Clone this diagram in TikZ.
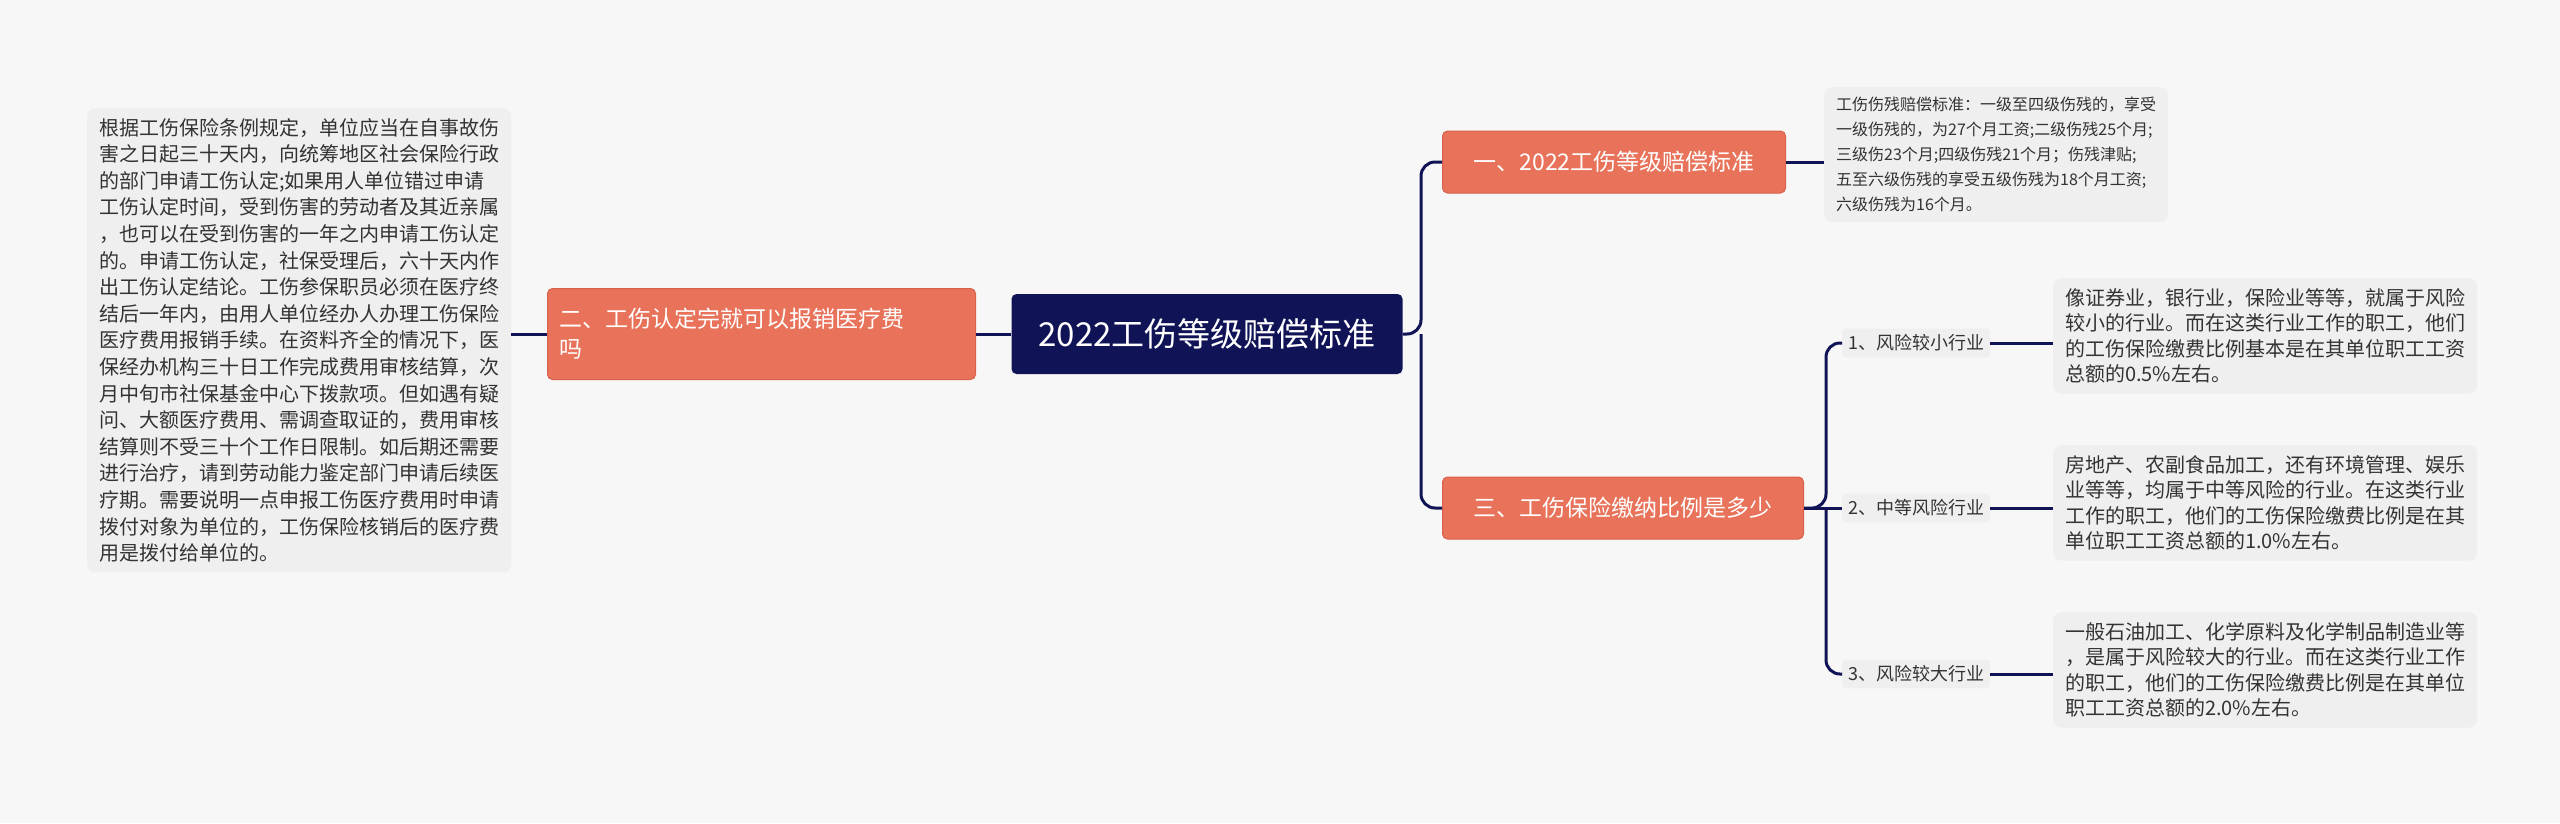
\documentclass[tikz,border=0pt]{standalone}
\usepackage{fontspec}
\setmainfont{Noto Sans CJK SC}
\definecolor{navy}{HTML}{101457}
\definecolor{orng}{HTML}{E8735A}
\definecolor{orngb}{HTML}{D9604A}
\definecolor{pagebg}{HTML}{F7F7F7}
\definecolor{txtbg}{HTML}{EFEFEF}
\definecolor{txt}{HTML}{333333}
\tikzset{
  body/.style={fill=txtbg,rounded corners=8pt,align=left,anchor=north west,text=txt,inner xsep=12pt,inner ysep=10pt},
  topic/.style={fill=orng,draw=orngb,line width=1pt,rounded corners=5pt,text=white,font=\fontsize{23}{30}\selectfont,anchor=west,inner xsep=12pt,align=left},
  sub/.style={fill=txtbg,rounded corners=4pt,text=txt,font=\fontsize{18}{22}\selectfont,inner sep=6pt},
  link/.style={draw=navy,line width=3pt,rounded corners=14pt}
}
\begin{document}
\begin{tikzpicture}[x=1pt,y=-1pt]
\useasboundingbox (0,0) rectangle (2560,823);
\fill[pagebg] (0,0) rectangle (2560,823);
% center
\node[fill=navy,rounded corners=5pt,text=white,font=\fontsize{33}{40}\selectfont,minimum width=391pt,minimum height=80pt] (c) at (1207,334) {2022工伤等级赔偿标准};
% left
\node[topic,text width=404pt,minimum height=91pt,anchor=west] (t2) at (547,334) {二、工伤认定完就可以报销医疗费\\吗};
\node[body,font=\fontsize{20}{26.6}\selectfont] (l) at (87,108) {根据工伤保险条例规定，单位应当在自事故伤\\害之日起三十天内，向统筹地区社会保险行政\\的部门申请工伤认定;如果用人单位错过申请\\工伤认定时间，受到伤害的劳动者及其近亲属\\，也可以在受到伤害的一年之内申请工伤认定\\的。申请工伤认定，社保受理后，六十天内作\\出工伤认定结论。工伤参保职员必须在医疗终\\结后一年内，由用人单位经办人办理工伤保险\\医疗费用报销手续。在资料齐全的情况下，医\\保经办机构三十日工作完成费用审核结算，次\\月中旬市社保基金中心下拨款项。但如遇有疑\\问、大额医疗费用、需调查取证的，费用审核\\结算则不受三十个工作日限制。如后期还需要\\进行治疗，请到劳动能力鉴定部门申请后续医\\疗期。需要说明一点申报工伤医疗费用时申请\\拨付对象为单位的，工伤保险核销后的医疗费\\用是拨付给单位的。};
% right topics
\node[topic,minimum width=343pt,minimum height=62pt] (t1) at (1442,162) {一、2022工伤等级赔偿标准};
\node[topic,minimum width=361pt,minimum height=62pt] (t3) at (1442,508) {三、工伤保险缴纳比例是多少};
\node[body,font=\fontsize{16}{25}\selectfont] (r1) at (1824,87) {工伤伤残赔偿标准：一级至四级伤残的，享受\\一级伤残的，为27个月工资;二级伤残25个月;\\三级伤23个月;四级伤残21个月；伤残津贴;\\五至六级伤残的享受五级伤残为18个月工资;\\六级伤残为16个月。};
% sub labels
\node[sub,anchor=west] (s1) at (1842,343) {1、风险较小行业};
\node[sub,anchor=west] (s2) at (1842,508) {2、中等风险行业};
\node[sub,anchor=west] (s3) at (1842,674) {3、风险较大行业};
\node[body,font=\fontsize{20}{25.6}\selectfont] (b1) at (2053,278) {像证券业，银行业，保险业等等，就属于风险\\较小的行业。而在这类行业工作的职工，他们\\的工伤保险缴费比例基本是在其单位职工工资\\总额的0.5\%左右。};
\node[body,font=\fontsize{20}{25.6}\selectfont] (b2) at (2053,445) {房地产、农副食品加工，还有环境管理、娱乐\\业等等，均属于中等风险的行业。在这类行业\\工作的职工，他们的工伤保险缴费比例是在其\\单位职工工资总额的1.0\%左右。};
\node[body,font=\fontsize{20}{25.6}\selectfont] (b3) at (2053,612) {一般石油加工、化学原料及化学制品制造业等\\，是属于风险较大的行业。而在这类行业工作\\的职工，他们的工伤保险缴费比例是在其单位\\职工工资总额的2.0\%左右。};
% links
\draw[link] (c.west) -- (t2.east);
\draw[link] (t2.west) -- (l.east|-t2.west);
\draw[link] (c.east) -- (1421,334) |- (t1.west);
\draw[link] (1421,334) |- (t3.west);
\draw[link] (r1.west|-t1.east) -- (t1.east);
\draw[link] (t3.east) -- (1826,508) |- (s1.west);
\draw[link] (1826,508) |- (s3.west);
\draw[link] (t3.east) -- (s2.west);
\draw[link] (s1.east) -- (s1.east-|b1.west);
\draw[link] (s2.east) -- (s2.east-|b2.west);
\draw[link] (s3.east) -- (s3.east-|b3.west);
\end{tikzpicture}
\end{document}
